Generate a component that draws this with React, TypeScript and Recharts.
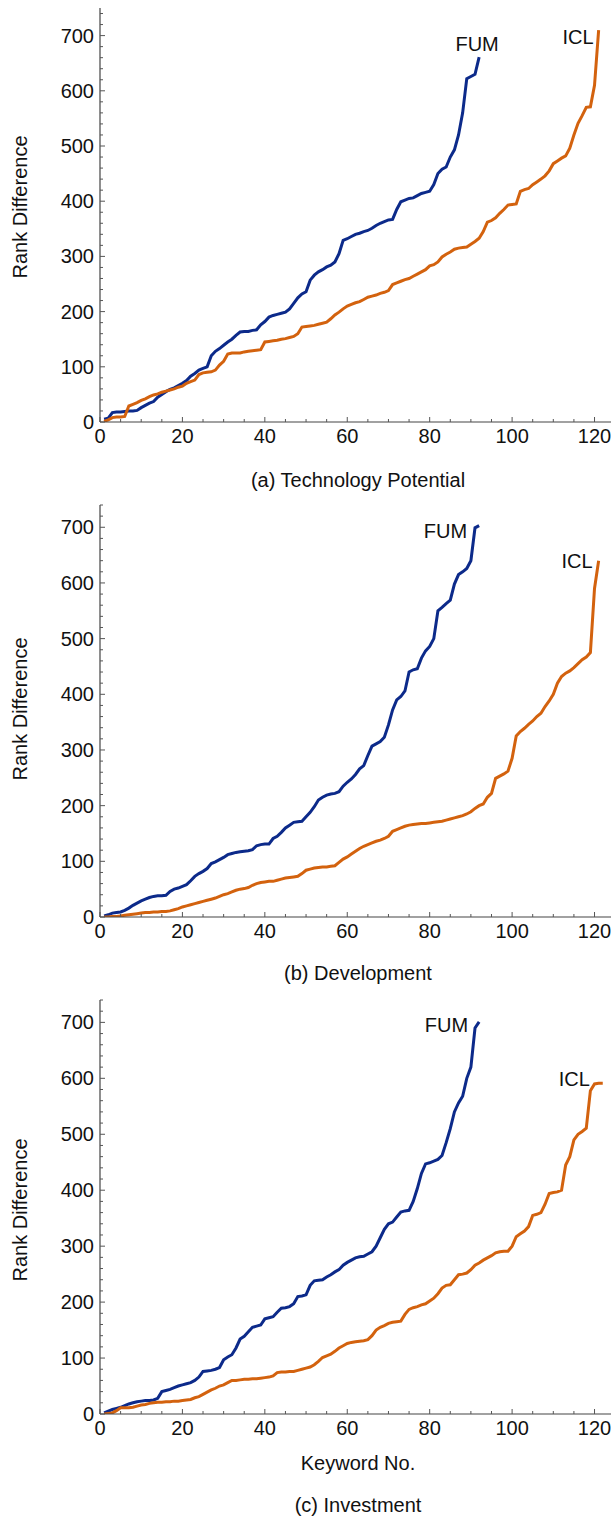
import React from "react";
import { LineChart, Line, XAxis, YAxis } from "recharts";

// x = keyword number, y = rank difference
const keywordTicks = [0, 5, 10, 15, 20, 25, 30, 35, 40, 45, 50, 55, 60, 65, 70, 75, 80, 85, 90, 95, 100, 105, 110, 115, 120];
const keywordLabels = [0, 20, 40, 60, 80, 100, 120];
const rankTicks = [0, 20, 40, 60, 80, 100, 120, 140, 160, 180, 200, 220, 240, 260, 280, 300, 320, 340, 360, 380, 400, 420, 440, 460, 480, 500, 520, 540, 560, 580, 600, 620, 640, 660, 680, 700, 720, 740];
const rankLabels = [0, 100, 200, 300, 400, 500, 600, 700];

const fumTech = [5, 7, 17, 18, 18, 19, 20, 20, 21, 26, 30, 34, 37, 45, 50, 55, 59, 62, 66, 70, 75, 83, 88, 94, 97, 100, 120, 128, 133, 139, 145, 150, 157, 163, 164, 164, 166, 167, 176, 182, 190, 193, 195, 197, 199, 205, 215, 225, 232, 236, 257, 266, 272, 276, 281, 284, 290, 305, 329, 332, 336, 340, 342, 345, 347, 351, 356, 360, 363, 366, 367, 385, 399, 402, 405, 406, 410, 414, 416, 418, 430, 450, 458, 462, 480, 493, 520, 560, 622, 626, 630, 661];
const iclTech = [1, 4, 8, 9, 9, 10, 29, 32, 35, 39, 42, 46, 49, 51, 54, 56, 58, 60, 63, 65, 70, 73, 76, 86, 89, 90, 91, 94, 103, 110, 123, 125, 125, 125, 127, 128, 129, 130, 131, 145, 146, 147, 148, 150, 151, 153, 155, 160, 172, 173, 174, 175, 177, 179, 181, 187, 194, 199, 205, 210, 213, 216, 218, 222, 226, 228, 230, 233, 235, 238, 249, 252, 255, 258, 260, 264, 268, 272, 276, 283, 285, 290, 299, 304, 308, 313, 315, 316, 317, 322, 327, 333, 345, 362, 365, 370, 378, 385, 393, 394, 395, 418, 421, 423, 430, 435, 440, 446, 455, 468, 473, 478, 482, 496, 520, 541, 555, 570, 571, 610, 710];

const fumDev = [2, 4, 7, 8, 9, 12, 16, 21, 25, 29, 32, 35, 37, 38, 38, 39, 46, 50, 52, 55, 58, 65, 73, 78, 82, 87, 96, 99, 103, 107, 112, 114, 116, 117, 118, 119, 121, 128, 130, 131, 131, 141, 145, 152, 160, 165, 170, 171, 172, 180, 188, 198, 210, 215, 219, 221, 222, 225, 235, 242, 248, 256, 266, 272, 290, 307, 311, 315, 323, 345, 372, 390, 396, 406, 440, 444, 446, 465, 478, 486, 500, 550, 556, 563, 569, 598, 615, 620, 626, 640, 699, 703];
const iclDev = [0, 0, 1, 1, 2, 3, 4, 5, 6, 7, 8, 8, 9, 9, 10, 10, 11, 13, 15, 18, 20, 22, 24, 26, 28, 30, 32, 34, 37, 40, 42, 45, 48, 50, 51, 53, 57, 60, 62, 63, 64, 64, 66, 68, 70, 71, 72, 73, 78, 84, 86, 88, 89, 90, 90, 91, 92, 98, 104, 108, 113, 118, 123, 127, 130, 133, 136, 138, 141, 145, 154, 157, 160, 163, 165, 166, 167, 168, 168, 169, 170, 171, 172, 174, 176, 178, 180, 182, 185, 189, 195, 200, 203, 215, 222, 249, 253, 257, 262, 285, 325, 333, 339, 346, 352, 360, 366, 378, 388, 400, 420, 432, 438, 442, 448, 455, 462, 467, 475, 590, 640];

const fumInv = [2, 5, 8, 10, 12, 15, 18, 20, 22, 23, 24, 24, 25, 28, 40, 42, 44, 47, 50, 52, 54, 56, 60, 66, 76, 77, 78, 80, 83, 97, 102, 106, 118, 134, 139, 147, 155, 157, 159, 170, 172, 174, 182, 189, 190, 192, 197, 210, 211, 213, 230, 238, 239, 240, 245, 249, 254, 258, 266, 271, 275, 279, 281, 282, 286, 290, 300, 315, 330, 340, 343, 352, 361, 363, 364, 380, 403, 430, 447, 449, 452, 455, 462, 485, 510, 540, 556, 568, 600, 620, 690, 701];
const iclInv = [0, 1, 2, 6, 11, 11, 11, 12, 14, 16, 17, 19, 20, 21, 21, 22, 22, 23, 23, 24, 25, 26, 29, 31, 35, 39, 43, 46, 50, 52, 56, 60, 60, 61, 62, 62, 63, 63, 64, 65, 66, 68, 74, 75, 75, 76, 76, 78, 80, 82, 84, 88, 94, 101, 104, 107, 112, 118, 122, 126, 128, 129, 130, 131, 133, 140, 150, 155, 158, 162, 164, 165, 166, 178, 187, 190, 192, 195, 197, 202, 207, 215, 225, 230, 231, 240, 249, 250, 252, 258, 266, 270, 275, 279, 283, 288, 290, 291, 291, 300, 317, 322, 327, 335, 355, 357, 360, 375, 394, 396, 397, 400, 445, 460, 490, 500, 505, 511, 578, 590, 591, 591];

const FUM_COLOR = "#0c2a8a";
const ICL_COLOR = "#d3620e";
const FONT = '"Liberation Sans", Arial, sans-serif';
const FS = 20;

const toPoints = (vals: number[]) => vals.map((v, i) => ({ k: i + 1, v }));

const panels = [
  { fum: fumTech, icl: iclTech, top: 0, height: 450, yMax: 750, caption: "(a) Technology Potential", capY: 487, titleY: 207, fumLbl: { dx: -2, dy: -6, anchor: "middle" }, iclLbl: { dx: -5, dy: 14, anchor: "end" } },
  { fum: fumDev, icl: iclDev, top: 497, height: 448, yMax: 740, caption: "(b) Development", capY: 980, titleY: 709, fumLbl: { dx: -12, dy: 12, anchor: "end" }, iclLbl: { dx: -6, dy: 7, anchor: "end" } },
  { fum: fumInv, icl: iclInv, top: 992, height: 450, yMax: 740, caption: "(c) Investment", capY: 1512, titleY: 1210, fumLbl: { dx: -11, dy: 10, anchor: "end" }, iclLbl: { dx: -13, dy: 3, anchor: "end" } },
];

function XTick(props: any) {
  const { x, y, payload } = props;
  const major = keywordLabels.includes(payload.value);
  return (
    <g>
      <line x1={x} x2={x} y1={y} y2={y - (major ? 5 : 3)} stroke="#555" strokeWidth={1} />
      {major && (
        <text x={x} y={y + 21} textAnchor="middle" fontSize={FS} fontFamily={FONT} fill="#111">
          {payload.value}
        </text>
      )}
    </g>
  );
}

function YTick(props: any) {
  const { x, y, payload } = props;
  const major = rankLabels.includes(payload.value);
  return (
    <g>
      <line x1={x} x2={x + (major ? 5 : 3)} y1={y} y2={y} stroke="#555" strokeWidth={1} />
      {major && (
        <text x={x - 6} y={y + 7} textAnchor="end" fontSize={FS} fontFamily={FONT} fill="#111">
          {payload.value}
        </text>
      )}
    </g>
  );
}

function endLabel(name: string, count: number, lbl: any) {
  return (p: any) => {
    if (p.index !== count - 1) return null;
    return (
      <text x={p.x + lbl.dx} y={p.y + lbl.dy} textAnchor={lbl.anchor} fontSize={FS} fontFamily={FONT} fill="#111">
        {name}
      </text>
    );
  };
}

function Panel({ p }: { p: any }) {
  return (
    <div style={{ position: "absolute", left: 0, top: p.top }}>
      <LineChart width={611} height={p.height} margin={{ top: 8, right: 0, left: 0, bottom: 0 }}>
        <XAxis
          dataKey="k"
          type="number"
          domain={[0, 124]}
          ticks={keywordTicks}
          interval={0}
          height={28}
          tickSize={0}
          tickMargin={0}
          tickLine={false}
          tick={<XTick />}
          axisLine={{ stroke: "#444", strokeWidth: 1.2 }}
          allowDataOverflow
        />
        <YAxis
          dataKey="v"
          type="number"
          domain={[0, p.yMax]}
          ticks={rankTicks}
          interval={0}
          width={100}
          tickSize={0}
          tickMargin={0}
          tickLine={false}
          tick={<YTick />}
          axisLine={{ stroke: "#444", strokeWidth: 1.2 }}
          allowDataOverflow
        />
        <Line
          data={toPoints(p.fum)}
          dataKey="v"
          type="linear"
          stroke={FUM_COLOR}
          strokeWidth={3}
          dot={false}
          isAnimationActive={false}
          label={endLabel("FUM", p.fum.length, p.fumLbl)}
        />
        <Line
          data={toPoints(p.icl)}
          dataKey="v"
          type="linear"
          stroke={ICL_COLOR}
          strokeWidth={3}
          dot={false}
          isAnimationActive={false}
          label={endLabel("ICL", p.icl.length, p.iclLbl)}
        />
      </LineChart>
    </div>
  );
}

export default function App() {
  return (
    <div style={{ position: "absolute", left: 0, top: 0, width: 611, height: 1517, background: "#fff", fontFamily: FONT }}>
      {panels.map((p, i) => (
        <Panel key={i} p={p} />
      ))}
      <svg width={611} height={1517} style={{ position: "absolute", left: 0, top: 0, pointerEvents: "none" }}>
        {panels.map((p, i) => (
          <g key={i}>
            <text x={358} y={p.capY} textAnchor="middle" fontSize={FS} fontFamily={FONT} fill="#111">
              {p.caption}
            </text>
            <text
              transform={`translate(27, ${p.titleY}) rotate(-90)`}
              textAnchor="middle"
              fontSize={FS}
              fontFamily={FONT}
              fill="#111"
            >
              Rank Difference
            </text>
          </g>
        ))}
        <text x={358} y={1470} textAnchor="middle" fontSize={FS} fontFamily={FONT} fill="#111">
          Keyword No.
        </text>
      </svg>
    </div>
  );
}
